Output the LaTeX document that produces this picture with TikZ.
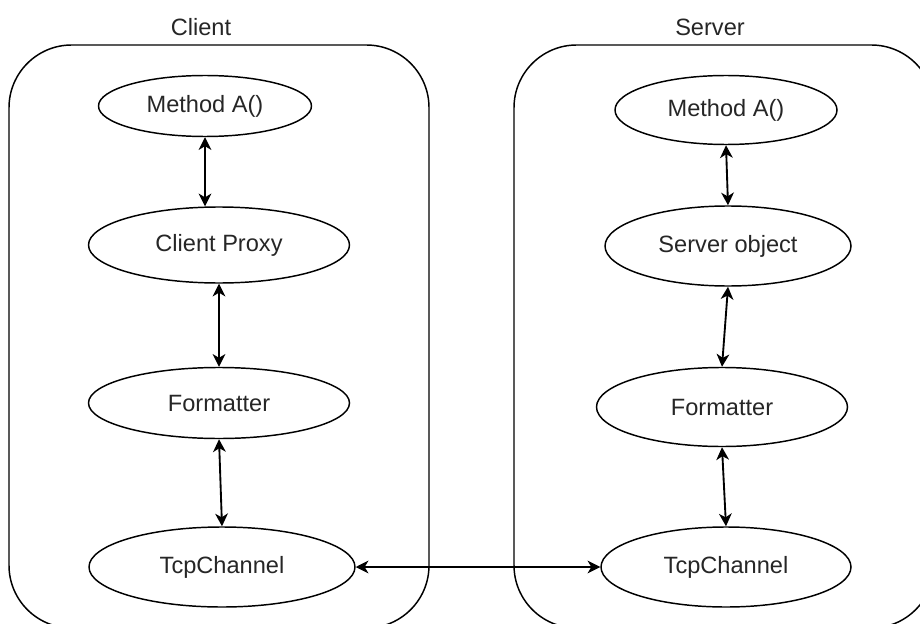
\documentclass[tikz,border=0pt]{standalone}
\usepackage{fontspec}
\setmainfont{Liberation Sans}
\usetikzlibrary{shapes.geometric,arrows.meta}
\begin{document}
\begin{tikzpicture}[x=0.75pt,y=-0.75pt,
  every node/.style={font=\fontsize{17.7pt}{21pt}\selectfont, text=black!85},
  oval/.style={ellipse, draw=black, line width=1.1pt, inner sep=0pt},
  ovalsize/.style 2 args={minimum width={#1*0.75pt}, minimum height={#2*0.75pt}},
  link/.style={draw=black, line width=1.4pt, {Stealth[length=9.5pt,width=9.5pt,inset=2.8pt]}-{Stealth[length=9.5pt,width=9.5pt,inset=2.8pt]}},
  panel/.style={draw=black, line width=1.1pt, rounded corners=47pt}]
\useasboundingbox (0,0) rectangle (920,624);

% the two containers, running past the page edge
\begin{scope}
  \clip (0,0) rectangle (920,624);
  \draw[panel] (9,45) rectangle (429,628);
  \draw[panel] (514,45) rectangle (934,628);
\end{scope}

% titles
\node (clientlbl) at (201,27) {Client};
\node (serverlbl) at (710,27) {Server};

% client side
\node[oval, ovalsize={213}{61}] (cma) at (205,106) {Method A()};
\node[oval, ovalsize={261}{76}] (ccp) at (219,245) {Client Proxy};
\node[oval, ovalsize={261}{71}] (cfm) at (219,403) {Formatter};
\node[oval, ovalsize={266}{80}] (ctc) at (222,567) {TcpChannel};

% server side
\node[oval, ovalsize={222}{69}] (sma) at (726,110) {Method A()};
\node[oval, ovalsize={246}{80}] (sso) at (728,246) {Server object};
\node[oval, ovalsize={251}{79}] (sfm) at (722,407) {Formatter};
\node[oval, ovalsize={250}{80}] (stc) at (726,567) {TcpChannel};

% connectors
\draw[link] (cma.south) -- (cma.south |- ccp.north);
\draw[link] (ccp.south) -- (cfm.north);
\draw[link] (cfm.south) -- (ctc.north);

\draw[link] (sma.south) -- (sso.north);
\draw[link] (sso.south) -- (sfm.north);
\draw[link] (sfm.south) -- (stc.north);

\draw[link] (ctc.east) -- (stc.west);
\end{tikzpicture}
\end{document}
